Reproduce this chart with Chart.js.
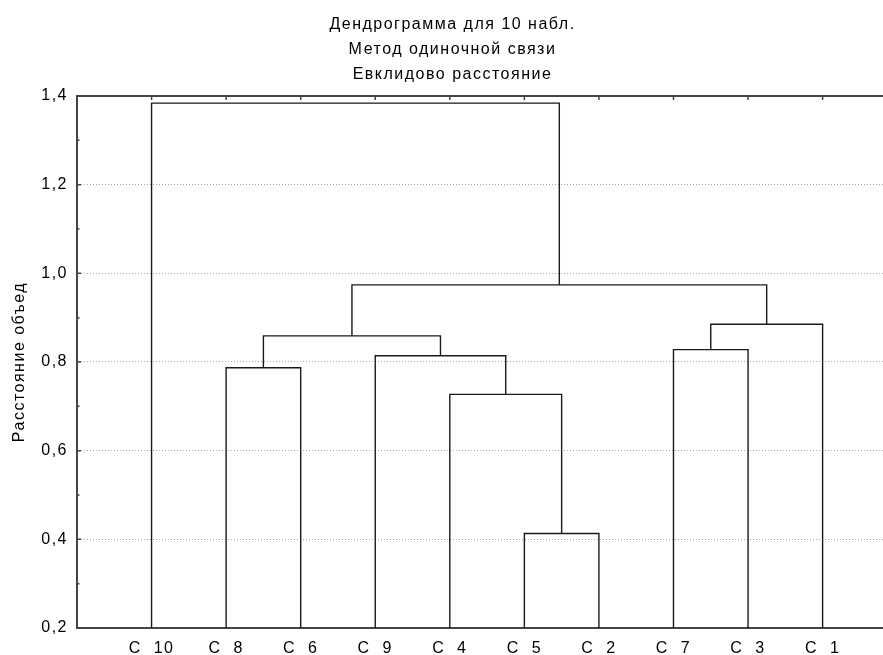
<!DOCTYPE html>
<html>
<head>
<meta charset="utf-8">
<script src="https://cdn.jsdelivr.net/npm/chart.js@4/dist/chart.umd.min.js"></script>
<style>
  html, body { margin: 0; padding: 0; background: #fff; }
  #wrap { width: 883px; height: 655px; }
</style>
</head>
<body>
<div id="wrap"><canvas id="c" width="883" height="655"></canvas></div>
<script>
// Leaves in dendrogram order (left to right)
const leafLabels = ['C  10', 'C  8', 'C  6', 'C  9', 'C  4', 'C  5', 'C  2', 'C  7', 'C  3', 'C  1'];
// Merges: node ids 0..9 are leaves, 10+ are merged clusters in order
const mergeLeft   = [5, 4, 1, 3, 7, 12, 14, 15, 0];
const mergeRight  = [6, 10, 2, 11, 8, 13, 9, 16, 17];
const mergeHeight = [0.413, 0.727, 0.787, 0.814, 0.828, 0.859, 0.885, 0.974, 1.384];
const yTicks = [0.2, 0.4, 0.6, 0.8, 1.0, 1.2, 1.4];
const titleLines = ['Дендрограмма для 10 набл.', 'Метод одиночной связи', 'Евклидово расстояние'];
const yAxisTitle = 'Расстояние объед';

const baseHeight = yTicks[0];
const nodeX = leafLabels.map((_, i) => i + 1);
const nodeH = leafLabels.map(() => baseHeight);
const datasets = [];
mergeLeft.forEach((l, k) => {
  const r = mergeRight[k], h = mergeHeight[k];
  datasets.push({
    data: [
      { x: nodeX[l], y: nodeH[l] },
      { x: nodeX[l], y: h },
      { x: nodeX[r], y: h },
      { x: nodeX[r], y: nodeH[r] }
    ],
    showLine: true,
    borderColor: '#1a1a1a',
    borderWidth: 1.4,
    pointRadius: 0,
    fill: false,
    tension: 0
  });
  nodeX.push((nodeX[l] + nodeX[r]) / 2);
  nodeH.push(h);
});

const FONT = "'Liberation Sans', Arial, sans-serif";
const SPACING = '1.5px';

const spacingPlugin = {
  id: 'spacing',
  beforeUpdate(chart) { chart.ctx.letterSpacing = SPACING; },
  beforeLayout(chart) { chart.ctx.letterSpacing = SPACING; },
  afterLayout(chart) {
    // reference title is centred slightly right of the canvas centre
    if (chart.titleBlock) chart.titleBlock.left = 22;
  },
  beforeDraw(chart) { chart.ctx.letterSpacing = SPACING; }
};

const framePlugin = {
  id: 'frame',
  afterDraw(chart) {
    const { ctx, chartArea: a, scales } = chart;
    ctx.save();
    ctx.strokeStyle = '#444';
    ctx.lineWidth = 2;
    ctx.beginPath();
    ctx.moveTo(a.left - 1, a.top);
    ctx.lineTo(a.right, a.top);
    ctx.stroke();
    ctx.lineWidth = 1.5;
    ctx.beginPath();
    leafLabels.forEach((_, i) => {
      const x = scales.x.getPixelForValue(i + 1);
      ctx.moveTo(x, a.top);
      ctx.lineTo(x, a.top + 4);
    });
    for (let v = yTicks[0]; v <= yTicks[yTicks.length - 1] + 1e-9; v += 0.1) {
      const y = scales.y.getPixelForValue(v);
      const major = Math.abs(Math.round(v * 10) % 2) === 0;
      ctx.moveTo(a.left, y);
      ctx.lineTo(a.left + (major ? 4 : 2.5), y);
    }
    ctx.stroke();
    ctx.restore();
  }
};

new Chart(document.getElementById('c'), {
  type: 'scatter',
  data: { datasets },
  plugins: [spacingPlugin, framePlugin],
  options: {
    responsive: false,
    animation: false,
    events: [],
    layout: { padding: 0 },
    plugins: {
      legend: { display: false },
      tooltip: { enabled: false },
      title: {
        display: true,
        text: titleLines,
        color: '#000',
        font: { family: FONT, size: 16, weight: 'normal', lineHeight: 1.5625 },
        padding: { top: 12, bottom: 9 }
      }
    },
    scales: {
      x: {
        type: 'linear',
        min: 0,
        max: 10.81,
        afterBuildTicks(scale) {
          scale.ticks = leafLabels.map((_, i) => ({ value: i + 1 }));
        },
        afterFit(scale) { scale.height = 27; },
        ticks: {
          autoSkip: false,
          maxRotation: 0,
          padding: 11,
          color: '#000',
          font: { family: FONT, size: 16 },
          callback: (v) => leafLabels[Math.round(v) - 1] || ''
        },
        grid: { display: false, drawTicks: false },
        border: { display: true, color: '#444', width: 2 }
      },
      y: {
        type: 'linear',
        min: yTicks[0],
        max: yTicks[yTicks.length - 1],
        afterBuildTicks(scale) {
          scale.ticks = yTicks.map(v => ({ value: v }));
        },
        afterFit(scale) { scale.width = 77; },
        ticks: {
          padding: 9,
          color: '#000',
          font: { family: FONT, size: 16 },
          callback: (v) => Number(v).toFixed(1).replace('.', ',')
        },
        title: {
          display: true,
          text: yAxisTitle,
          color: '#000',
          font: { family: FONT, size: 16 },
          padding: { top: 10, bottom: 0 }
        },
        grid: {
          color: (c) => (c.tick && (c.tick.value === yTicks[0] || c.tick.value === yTicks[yTicks.length - 1])) ? 'rgba(0,0,0,0)' : '#a8a8a8',
          lineWidth: 1,
          drawTicks: false,
          tickLength: 0
        },
        border: { display: true, color: '#444', width: 2, dash: [1, 2] }
      }
    }
  }
});
</script>
</body>
</html>
